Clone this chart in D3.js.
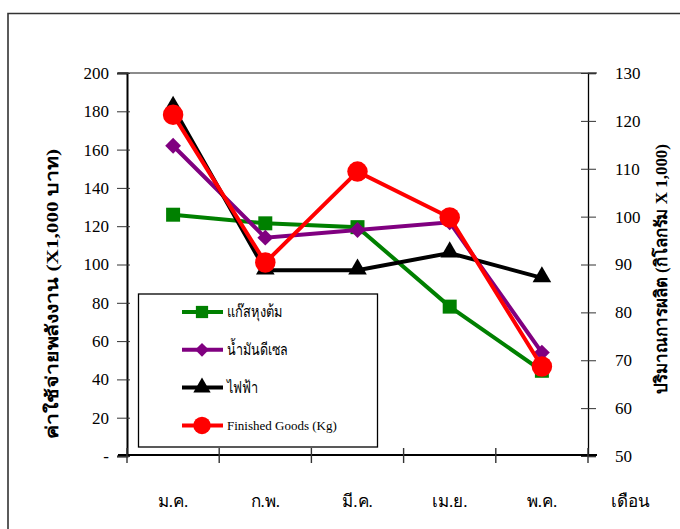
<!DOCTYPE html>
<html><head><meta charset="utf-8">
<script src="https://cdn.jsdelivr.net/npm/d3@7"></script>
<style>
body{margin:0;background:#fff;}
text{font-family:"Liberation Serif","Times New Roman",serif;}
</style></head>
<body><svg id="c" width="680" height="529"></svg>
<script>
const months = ["ม.ค.","ก.พ.","มี.ค.","เม.ย.","พ.ค."];
const axisTitleX = "เดือน";
const gas = [126, 121.5, 119.5, 78, 44.5];
const diesel = [162, 114, 118, 122, 54];
const electricity = [182, 97, 97, 106, 93];
const finishedGoods = [121.3, 90.4, 109.4, 99.8, 68.7];
const leftTicks = [0,20,40,60,80,100,120,140,160,180,200];
const leftTickLabels = ["-","20","40","60","80","100","120","140","160","180","200"];
const rightTicks = [50,60,70,80,90,100,110,120,130];
const seriesNames = ["แก๊สหุงต้ม","น้ำมันดีเซล","ไฟฟ้า","Finished Goods (Kg)"];
const seriesColors = ["#008000","#800080","#000000","#ff0000"];
const leftTitle = "ค่าใช้จ่ายพลังงาน (X1,000 บาท)";
const rightTitle = "ปริมาณการผลิต (กิโลกรัม X 1,000)";

const svg = d3.select("#c");
const L=127, R=588, T=73, B=456;
const x = d3.scaleBand().domain(months).range([L,R]);
const yL = d3.scaleLinear().domain([0,200]).range([B,T]);
const yR = d3.scaleLinear().domain([50,130]).range([B,T]);

// outer frame
svg.append("path").attr("d",`M8,529 V13.5 H680`).attr("fill","none").attr("stroke","#333").attr("stroke-width",1.6);

// top border of plot
svg.append("line").attr("x1",L-9).attr("x2",R+9).attr("y1",T).attr("y2",T).attr("stroke","#666").attr("stroke-width",1.5);

// left axis
const gL = svg.append("g").attr("transform",`translate(${L},0)`)
  .call(d3.axisLeft(yL).tickValues(leftTicks).tickSize(10).tickPadding(8).tickFormat((d,i)=>leftTickLabels[i]));
gL.select(".domain").attr("stroke","#000").attr("stroke-width",2);
gL.selectAll(".tick line").attr("x2",-10).attr("x1",3).attr("stroke","#333");
gL.selectAll(".tick text").attr("font-size",17).attr("font-family","Liberation Serif").attr("fill","#000");

// right axis
const gR = svg.append("g").attr("transform",`translate(${R},0)`)
  .call(d3.axisRight(yR).tickValues(rightTicks).tickSize(8).tickPadding(19));
gR.select(".domain").attr("stroke","#000").attr("stroke-width",1.3);
gR.selectAll(".tick line").attr("x1",-7).attr("x2",8).attr("stroke","#333");
gR.selectAll(".tick text").attr("font-size",17).attr("font-family","Liberation Serif").attr("fill","#000");

// bottom axis with ticks at band boundaries
const bounds = months.map(m=>x(m)).concat([R]);
svg.append("line").attr("x1",L-9).attr("x2",R+9).attr("y1",B-1).attr("y2",B-1).attr("stroke","#000").attr("stroke-width",2);
svg.selectAll(".xt").data(bounds).enter().append("line")
  .attr("x1",d=>d).attr("x2",d=>d).attr("y1",B-8).attr("y2",B+7).attr("stroke","#333").attr("stroke-width",1.4);
svg.selectAll(".xl").data(months).enter().append("text")
  .attr("x",d=>x(d)+x.bandwidth()/2).attr("y",507).attr("text-anchor","middle").attr("font-size",17).text(d=>d);
svg.append("text").attr("x",R+x.bandwidth()/2-4).attr("y",507).attr("text-anchor","middle").attr("font-size",17).text(axisTitleX);

// axis titles
svg.append("text").attr("transform",`translate(52,294) rotate(-90)`).attr("text-anchor","middle")
  .attr("font-size",17).attr("font-weight","bold").attr("dominant-baseline","central")
  .attr("textLength",290).attr("lengthAdjust","spacingAndGlyphs").text(leftTitle);
svg.append("text").attr("transform",`translate(661,269) rotate(-90)`).attr("text-anchor","middle")
  .attr("font-size",17).attr("font-weight","bold").attr("dominant-baseline","central")
  .attr("textLength",250).attr("lengthAdjust","spacingAndGlyphs").text(rightTitle);

// series
const cx = m=>x(m)+x.bandwidth()/2;
const series = [
  {vals:gas, y:yL, sym:d3.symbolSquare, size:196, rot:0},
  {vals:diesel, y:yL, sym:d3.symbolSquare, size:125, rot:45},
  {vals:electricity, y:yL, sym:d3.symbolTriangle, size:150, rot:0},
  {vals:finishedGoods, y:yR, sym:d3.symbolCircle, size:330, rot:0}
];
series.forEach((s,i)=>{
  const line = d3.line().x((d,j)=>cx(months[j])).y(d=>s.y(d));
  svg.append("path").datum(s.vals).attr("d",line).attr("fill","none")
    .attr("stroke",seriesColors[i]).attr("stroke-width",4).attr("stroke-linejoin","miter");
  svg.selectAll(".m"+i).data(s.vals).enter().append("path")
    .attr("d",d3.symbol().type(s.sym).size(s.size))
    .attr("transform",(d,j)=>`translate(${cx(months[j])},${s.y(d)+(s.sym===d3.symbolTriangle?-1:0)}) rotate(${s.rot})`)
    .attr("fill",seriesColors[i]);
});

// legend
const lg = svg.append("g");
lg.append("rect").attr("x",138.5).attr("y",294).attr("width",239).attr("height",153)
  .attr("fill","#fff").attr("stroke","#000").attr("stroke-width",1.3);
const legSizes = [150,95,130,240];
const legWidths = [56,61,31,null];
seriesNames.forEach((n,i)=>{
  const yy = 312 + i*37.8;
  lg.append("line").attr("x1",182).attr("x2",223).attr("y1",yy).attr("y2",yy).attr("stroke",seriesColors[i]).attr("stroke-width",4);
  lg.append("path").attr("d",d3.symbol().type(series[i].sym).size(legSizes[i]))
    .attr("transform",`translate(202,${yy}) rotate(${series[i].rot})`).attr("fill",seriesColors[i]);
  const t = lg.append("text").attr("x",227).attr("y",yy+5).attr("font-size",i===3?13:16).text(n);
  if (legWidths[i]) t.attr("textLength",legWidths[i]).attr("lengthAdjust","spacingAndGlyphs");
});
</script></body></html>
